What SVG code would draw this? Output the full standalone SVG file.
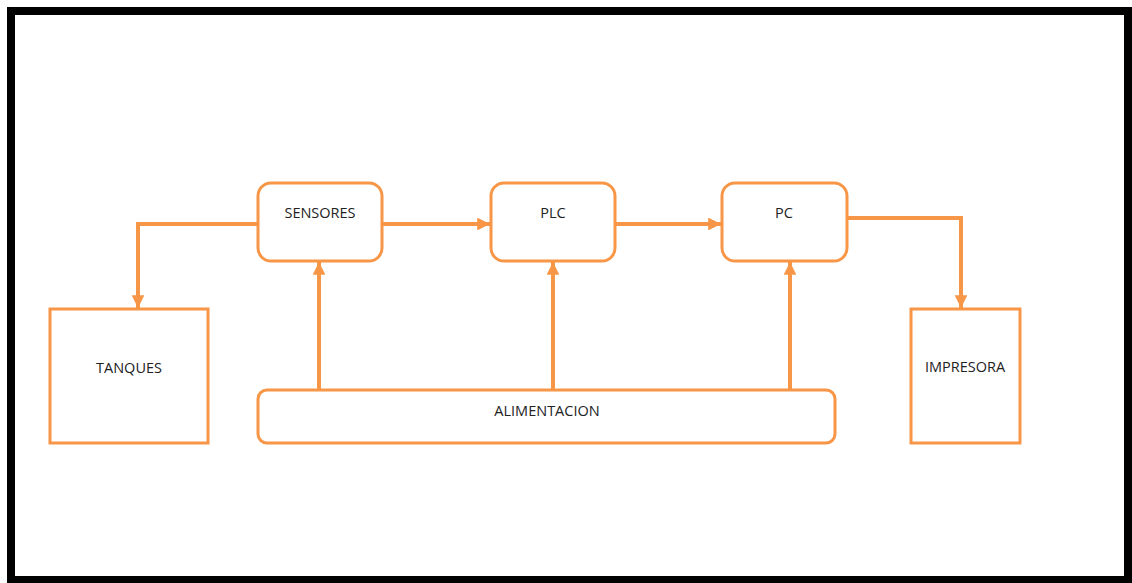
<svg xmlns="http://www.w3.org/2000/svg" width="1132" height="583" viewBox="0 0 1132 583">
<defs>
<marker id="ah" viewBox="0 0 10 10" refX="10" refY="5" markerWidth="3.2" markerHeight="3.2" markerUnits="strokeWidth" orient="auto">
<path d="M0,0 L10,5 L0,10 z" fill="#F79646"/>
</marker>
<style>
.box{fill:#fff;stroke:#F79646;stroke-width:3}
.lbl{font-family:"Open Sans","Liberation Sans",sans-serif;font-size:14.5px;fill:#222;text-anchor:middle}
.con{fill:none;stroke:#F79646;stroke-width:4;marker-end:url(#ah)}
</style>
</defs>
<rect x="0" y="0" width="1132" height="583" fill="#fff"/>
<rect x="11" y="11" width="1117" height="569" fill="#fff" stroke="#000" stroke-width="8"/>
<g id="connectors">
<path class="con" d="M258,224 H138 V308"/>
<path class="con" d="M382,224 H490"/>
<path class="con" d="M615,224 H721"/>
<path class="con" d="M847,218 H961 V308"/>
<path class="con" d="M319,390 V262"/>
<path class="con" d="M553,390 V262"/>
<path class="con" d="M790,390 V262"/>
</g>
<g id="sensores"><rect class="box" x="258" y="183" width="124" height="78" rx="13"/><text class="lbl" x="320" y="218">SENSORES</text></g>
<g id="plc"><rect class="box" x="491" y="183" width="124" height="78" rx="13"/><text class="lbl" x="553" y="218">PLC</text></g>
<g id="pc"><rect class="box" x="722" y="183" width="125" height="78" rx="13"/><text class="lbl" x="784" y="218">PC</text></g>
<g id="tanques"><rect class="box" x="50" y="309" width="158" height="134"/><text class="lbl" x="129" y="373">TANQUES</text></g>
<g id="impresora"><rect class="box" x="911" y="309" width="109" height="134"/><text class="lbl" x="965" y="372">IMPRESORA</text></g>
<g id="alimentacion"><rect class="box" x="258" y="390" width="577" height="53" rx="9"/><text class="lbl" x="547" y="416">ALIMENTACION</text></g>
</svg>
